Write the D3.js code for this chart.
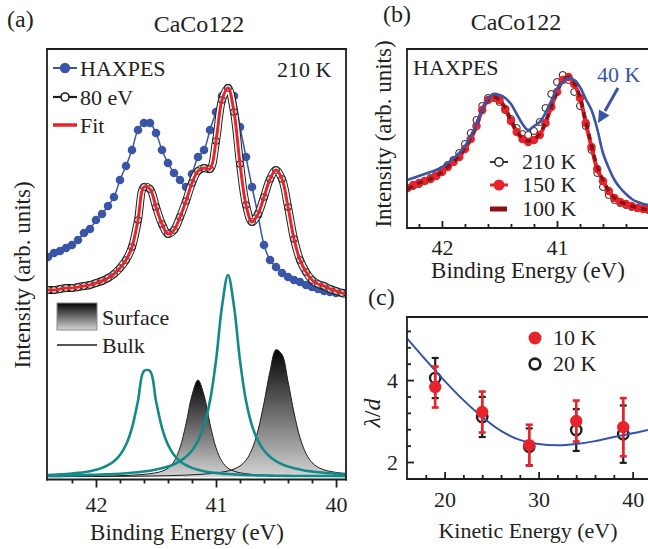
<!DOCTYPE html>
<html>
<head>
<meta charset="utf-8">
<script src="https://cdn.jsdelivr.net/npm/d3@7"></script>
<style>
  body { margin: 0; background: #fff; }
  svg text { font-family: "Liberation Serif", "Times New Roman", serif; fill: #231f20; }
</style>
</head>
<body>
<svg width="648" height="549"></svg>
<script>
// ---------- data, panel (a) : Co 3p core level, 210 K ----------
const energyA = [42.40, 42.35, 42.30, 42.25, 42.20, 42.15, 42.10, 42.05, 42.00, 41.95,
  41.90, 41.85, 41.80, 41.75, 41.70, 41.65, 41.60, 41.55, 41.50, 41.45,
  41.40, 41.35, 41.30, 41.25, 41.20, 41.15, 41.10, 41.05, 41.00, 40.95,
  40.90, 40.85, 40.80, 40.75, 40.70, 40.65, 40.60, 40.55, 40.50, 40.45,
  40.40, 40.35, 40.30, 40.25, 40.20, 40.15, 40.10, 40.05, 40.00, 39.95, 39.90];

const haxpes = [2.20, 2.24, 2.26, 2.29, 2.32, 2.37, 2.44, 2.48, 2.57, 2.63,
  2.71, 2.80, 2.97, 3.11, 3.27, 3.47, 3.54, 3.54, 3.44, 3.27,
  3.14, 3.04, 2.97, 2.90, 3.03, 3.20, 3.27, 3.47, 3.65, 3.81,
  3.89, 3.81, 3.50, 3.20, 2.90, 2.62, 2.32, 2.17, 2.10, 2.04,
  2.00, 1.97, 1.95, 1.92, 1.90, 1.88, 1.86, 1.85, 1.84, 1.84, 1.83];

// 80 eV data, the fit follows it
const ev80 = [1.87, 1.87, 1.88, 1.89, 1.89, 1.90, 1.91, 1.92, 1.94, 1.96,
  1.99, 2.03, 2.09, 2.17, 2.30, 2.57, 2.90, 2.88, 2.70, 2.53,
  2.43, 2.47, 2.60, 2.76, 2.94, 3.06, 3.09, 3.08, 3.36, 3.77,
  3.89, 3.65, 3.13, 2.72, 2.55, 2.63, 2.80, 2.98, 3.07, 2.98,
  2.70, 2.38, 2.17, 2.05, 1.97, 1.93, 1.91, 1.88, 1.86, 1.84, 1.83];

// bulk components (teal)
const bulk1 = [0.020, 0.023, 0.026, 0.030, 0.034, 0.041, 0.048, 0.058, 0.072, 0.091,
  0.118, 0.158, 0.220, 0.322, 0.492, 0.761, 1.060, 1.060, 0.761, 0.492,
  0.322, 0.220, 0.158, 0.118, 0.091, 0.072, 0.058, 0.048, 0.041, 0.034,
  0.030, 0.026, 0.023, 0.020, 0.018, 0.016, 0.015, 0.014, 0.013, 0.012,
  0.011, 0.010, 0.010, 0.010, 0.010, 0.010, 0.010, 0.010, 0.010, 0.010, 0.010];
const bulk2 = [0.012, 0.013, 0.014, 0.015, 0.016, 0.017, 0.019, 0.021, 0.022, 0.025,
  0.027, 0.030, 0.033, 0.037, 0.042, 0.048, 0.055, 0.063, 0.074, 0.087,
  0.104, 0.127, 0.158, 0.202, 0.265, 0.361, 0.513, 0.762, 1.164, 1.706,
  2.020, 1.706, 1.164, 0.762, 0.513, 0.361, 0.265, 0.202, 0.158, 0.127,
  0.104, 0.087, 0.074, 0.063, 0.055, 0.048, 0.042, 0.037, 0.033, 0.030, 0.027];

// surface components (shaded)
const surf1 = [0.004, 0.004, 0.004, 0.005, 0.005, 0.006, 0.006, 0.007, 0.008, 0.009,
  0.010, 0.011, 0.013, 0.015, 0.018, 0.022, 0.026, 0.033, 0.042, 0.058,
  0.088, 0.155, 0.293, 0.530, 0.818, 0.970, 0.818, 0.530, 0.293, 0.155,
  0.088, 0.058, 0.042, 0.033, 0.026, 0.022, 0.018, 0.015, 0.013, 0.011,
  0.010, 0.009, 0.008, 0.007, 0.006, 0.006, 0.005, 0.005, 0.004, 0.004, 0.004];
const surf2 = [0.003, 0.003, 0.003, 0.004, 0.004, 0.004, 0.004, 0.005, 0.005, 0.005,
  0.006, 0.006, 0.007, 0.007, 0.008, 0.008, 0.009, 0.010, 0.011, 0.012,
  0.013, 0.015, 0.017, 0.019, 0.022, 0.025, 0.029, 0.034, 0.040, 0.049,
  0.060, 0.079, 0.110, 0.168, 0.278, 0.467, 0.742, 1.057, 1.273, 1.224,
  0.954, 0.642, 0.394, 0.234, 0.144, 0.097, 0.072, 0.056, 0.046, 0.038, 0.033];

const ticksMajorA = [42, 41, 40];
const ticksMinorA = [42.2, 41.8, 41.6, 41.4, 41.2, 40.8, 40.6, 40.4, 40.2];

// ---------- data, panel (b) : temperature dependence ----------
const energyB = [42.30, 42.25, 42.20, 42.15, 42.10, 42.05, 42.00, 41.95, 41.90, 41.85,
  41.80, 41.75, 41.70, 41.65, 41.60, 41.55, 41.50, 41.45, 41.40, 41.35,
  41.30, 41.25, 41.20, 41.15, 41.10, 41.05, 41.00, 40.95, 40.90, 40.85,
  40.80, 40.75, 40.70, 40.65, 40.60, 40.55, 40.50, 40.45, 40.40, 40.35,
  40.30, 40.25, 40.20];

const t210 = [0.41, 0.43, 0.45, 0.48, 0.51, 0.55, 0.59, 0.64, 0.69, 0.76,
  0.85, 0.96, 1.09, 1.23, 1.31, 1.31, 1.27, 1.19, 1.10, 1.01,
  0.95, 0.94, 0.98, 1.07, 1.21, 1.35, 1.47, 1.54, 1.49, 1.37,
  1.23, 1.03, 0.79, 0.56, 0.42, 0.34, 0.29, 0.26, 0.24, 0.22,
  0.21, 0.20, 0.19];
const t150 = [0.41, 0.44, 0.46, 0.48, 0.50, 0.53, 0.57, 0.62, 0.67, 0.72,
  0.80, 0.90, 1.03, 1.19, 1.29, 1.32, 1.29, 1.20, 1.08, 0.97,
  0.90, 0.87, 0.89, 0.94, 1.06, 1.22, 1.37, 1.49, 1.52, 1.45,
  1.31, 1.06, 0.82, 0.60, 0.48, 0.38, 0.31, 0.27, 0.25, 0.23,
  0.21, 0.20, 0.19];
const t100 = [0.40, 0.43, 0.46, 0.48, 0.50, 0.53, 0.57, 0.62, 0.67, 0.73,
  0.81, 0.91, 1.04, 1.19, 1.29, 1.32, 1.29, 1.21, 1.09, 0.98,
  0.91, 0.88, 0.90, 0.95, 1.07, 1.22, 1.37, 1.48, 1.52, 1.46,
  1.32, 1.08, 0.84, 0.62, 0.49, 0.38, 0.31, 0.27, 0.25, 0.23,
  0.21, 0.20, 0.19];
const t40 = [0.49, 0.51, 0.53, 0.55, 0.57, 0.59, 0.62, 0.66, 0.71, 0.76,
  0.83, 0.93, 1.05, 1.19, 1.30, 1.35, 1.34, 1.31, 1.25, 1.15,
  1.05, 0.99, 1.03, 1.07, 1.16, 1.28, 1.40, 1.47, 1.51, 1.49,
  1.42, 1.30, 1.19, 1.00, 0.76, 0.61, 0.49, 0.41, 0.35, 0.30,
  0.27, 0.25, 0.24];

const ticksMajorB = [42, 41];
const ticksMinorB = [42.2, 41.8, 41.6, 41.4, 41.2, 40.8, 40.6, 40.4];

// ---------- data, panel (c) : lambda/d vs kinetic energy ----------
const kinE = [19, 24, 29, 34, 39];
const lam10 = [3.83, 3.22, 2.41, 3.00, 2.85];
const err10 = [0.50, 0.50, 0.50, 0.50, 0.71];
const lam20 = [4.05, 3.10, 2.37, 2.78, 2.68];
const err20 = [0.49, 0.49, 0.45, 0.51, 0.70];
const fitKinE = [16, 18, 20, 22, 24, 26, 28, 30, 32, 34, 36, 38, 40, 42];
const fitLam = [5.02, 4.49, 3.98, 3.51, 3.10, 2.76, 2.54, 2.44, 2.41, 2.44, 2.51, 2.61, 2.70, 2.80];

const ticksMajorCx = [20, 30, 40];
const ticksMinorCx = [18, 22, 24, 26, 28, 32, 34, 36, 38, 42];
const ticksMajorCy = [2, 4];
const ticksMinorCy = [1.6, 2.4, 2.8, 3.2, 3.6, 4.4, 4.8, 5.2];

// colours
const blue = '#3a54a6';
const red = '#e6242b';
const darkRed = '#8a1116';
const teal = '#128a8a';
const ink = '#1e1e1e';

const svg = d3.select('svg');
const defs = svg.append('defs');

// gradient for the surface peaks
const grad = defs.append('linearGradient').attr('id', 'surfGrad')
  .attr('x1', 0).attr('y1', 0).attr('x2', 0).attr('y2', 1);
grad.append('stop').attr('offset', '0%').attr('stop-color', '#050505');
grad.append('stop').attr('offset', '100%').attr('stop-color', '#d4d4d4');

const addClip = (id, x, y, w, h) => defs.append('clipPath').attr('id', id)
  .append('rect').attr('x', x).attr('y', y).attr('width', w).attr('height', h);

// plain text helper
const label = (g, x, y, txt, size, anchor = 'start') => g.append('text')
  .attr('x', x).attr('y', y)
  .attr('font-size', size)
  .attr('text-anchor', anchor)
  .text(txt);

// frame lines of a panel
const frame = (g, x0, y0, x1, y1, sides) => {
  const segs = {
    top: [x0, y0, x1, y0],
    bottom: [x0, y1, x1, y1],
    left: [x0, y0, x0, y1],
    right: [x1, y0, x1, y1]
  };
  sides.forEach(s => {
    const [a, b, c, d] = segs[s];
    g.append('line').attr('x1', a).attr('y1', b).attr('x2', c).attr('y2', d)
      .attr('stroke', ink).attr('stroke-width', 1.8).attr('stroke-linecap', 'square');
  });
};

// style an axis group
const styleAxis = sel => {
  sel.select('.domain').remove();
  sel.selectAll('line').attr('stroke', ink).attr('stroke-width', 1.8);
  sel.selectAll('text').attr('font-size', 22).attr('fill', ink)
    .attr('font-family', '"Liberation Serif", "Times New Roman", serif');
};

// ================= panel (a) =================
const xA = d3.scaleLinear().domain([42.408, 39.917]).range([47, 346]);
const yA = d3.scaleLinear().domain([-0.03, 4.28]).range([480, 49]);
addClip('clipA', 47, 49, 299, 431);

const gA = svg.append('g');
const plotA = gA.append('g').attr('clip-path', 'url(#clipA)');

const lineA = d3.line()
  .x((d, i) => xA(energyA[i]))
  .y(d => yA(d))
  .curve(d3.curveCatmullRom);
const areaA = d3.area()
  .x((d, i) => xA(energyA[i]))
  .y0(yA(0))
  .y1(d => yA(d))
  .curve(d3.curveCatmullRom);

// Surface components: shaded
plotA.selectAll('.surfFill').data([surf1, surf2]).join('path')
  .attr('class', 'surfFill')
  .attr('d', areaA)
  .attr('fill', 'url(#surfGrad)');
plotA.selectAll('.surfLine').data([surf1, surf2]).join('path')
  .attr('class', 'surfLine')
  .attr('d', lineA)
  .attr('fill', 'none')
  .attr('stroke', ink)
  .attr('stroke-width', 1);

// Bulk components: teal lines
plotA.selectAll('.bulk').data([bulk1, bulk2]).join('path')
  .attr('class', 'bulk')
  .attr('d', lineA)
  .attr('fill', 'none')
  .attr('stroke', teal)
  .attr('stroke-width', 2.6);

// HAXPES: blue line + filled dots
plotA.append('path').datum(haxpes)
  .attr('d', lineA)
  .attr('fill', 'none')
  .attr('stroke', blue)
  .attr('stroke-width', 1.5);
plotA.selectAll('.hx').data(haxpes).join('circle')
  .attr('class', 'hx')
  .attr('cx', (d, i) => xA(energyA[i]))
  .attr('cy', d => yA(d))
  .attr('r', 4.3)
  .attr('fill', blue);

// 80 eV: open circles, fit on top
plotA.append('path').datum(ev80)
  .attr('d', lineA).attr('fill', 'none')
  .attr('stroke', ink).attr('stroke-width', 8);
plotA.append('path').datum(ev80)
  .attr('d', lineA).attr('fill', 'none')
  .attr('stroke', '#fff').attr('stroke-width', 6);
plotA.selectAll('.e80').data(ev80).join('circle')
  .attr('class', 'e80')
  .attr('cx', (d, i) => xA(energyA[i]))
  .attr('cy', d => yA(d))
  .attr('r', 3.3)
  .attr('fill', '#fff')
  .attr('stroke', ink)
  .attr('stroke-width', 1.1);
plotA.append('path').datum(ev80)
  .attr('d', lineA).attr('fill', 'none')
  .attr('stroke', red).attr('stroke-width', 3);

// axis (a): outward ticks
gA.append('g').attr('transform', 'translate(0,479.5)')
  .call(d3.axisBottom(xA).tickValues(ticksMinorA).tickSize(4).tickFormat(''))
  .call(styleAxis);
gA.append('g').attr('transform', 'translate(0,479.5)')
  .call(d3.axisBottom(xA).tickValues(ticksMajorA).tickSize(8).tickPadding(9).tickFormat(d3.format('d')))
  .call(styleAxis);
frame(gA, 47, 49, 346, 479.5, ['top', 'bottom', 'left', 'right']);

// legend (a)
gA.append('line').attr('x1', 53).attr('x2', 77).attr('y1', 68).attr('y2', 68)
  .attr('stroke', blue).attr('stroke-width', 2);
gA.append('circle').attr('cx', 65).attr('cy', 68).attr('r', 5.2).attr('fill', blue);
gA.append('line').attr('x1', 53).attr('x2', 77).attr('y1', 97).attr('y2', 97)
  .attr('stroke', ink).attr('stroke-width', 2.2);
gA.append('circle').attr('cx', 65).attr('cy', 97).attr('r', 4)
  .attr('fill', '#fff').attr('stroke', ink).attr('stroke-width', 1.6);
gA.append('line').attr('x1', 53).attr('x2', 77).attr('y1', 125).attr('y2', 125)
  .attr('stroke', red).attr('stroke-width', 3.5);
label(gA, 80, 76, 'HAXPES', 22);
label(gA, 80, 105, '80 eV', 22);
label(gA, 80, 133, 'Fit', 22);
label(gA, 277, 77, '210 K', 22);

gA.append('rect').attr('x', 57).attr('y', 303).attr('width', 40).attr('height', 27)
  .attr('fill', 'url(#surfGrad)').attr('stroke', '#8a8a8a').attr('stroke-width', 1);
gA.append('line').attr('x1', 57).attr('x2', 97).attr('y1', 345).attr('y2', 345)
  .attr('stroke', ink).attr('stroke-width', 1.3);
label(gA, 102, 325, 'Surface', 22);
label(gA, 102, 353, 'Bulk', 22);

// titles (a)
label(gA, 7, 27, '(a)', 24);
label(gA, 199, 32, 'CaCo122', 24, 'middle');
label(gA, 187, 540, 'Binding Energy (eV)', 23, 'middle');
label(gA, 0, 0, 'Intensity (arb. units)', 23, 'middle')
  .attr('transform', 'translate(30,275) rotate(-90)');

// ================= panel (b) =================
const xB = d3.scaleLinear().domain([42.304, 40.0]).range([407, 672]);
const yB = d3.scaleLinear().domain([0, 1.8]).range([229, 49]);
addClip('clipB', 407, 49, 260, 179);

const gB = svg.append('g');
const plotB = gB.append('g').attr('clip-path', 'url(#clipB)');

const lineB = d3.line()
  .x((d, i) => xB(energyB[i]))
  .y(d => yB(d))
  .curve(d3.curveCatmullRom);

// 210 K open circles
plotB.selectAll('.t210').data(t210).join('circle')
  .attr('class', 't210')
  .attr('cx', (d, i) => xB(energyB[i]))
  .attr('cy', d => yB(d))
  .attr('r', 3.5)
  .attr('fill', '#fff')
  .attr('stroke', ink)
  .attr('stroke-width', 1);

// 150 K red line + dots
plotB.append('path').datum(t150)
  .attr('d', lineB).attr('fill', 'none')
  .attr('stroke', red).attr('stroke-width', 4);
plotB.selectAll('.t150').data(t150).join('circle')
  .attr('class', 't150')
  .attr('cx', (d, i) => xB(energyB[i]))
  .attr('cy', d => yB(d))
  .attr('r', 4.3)
  .attr('fill', red);

// 100 K dark red dashes
plotB.append('path').datum(t100)
  .attr('d', lineB).attr('fill', 'none')
  .attr('stroke', darkRed).attr('stroke-width', 3.5)
  .attr('stroke-dasharray', '6,5');

// 40 K blue line
plotB.append('path').datum(t40)
  .attr('d', lineB).attr('fill', 'none')
  .attr('stroke', blue).attr('stroke-width', 2.6);

// axis (b): inward ticks
gB.append('g').attr('transform', 'translate(0,228)')
  .call(d3.axisBottom(xB).tickValues(ticksMinorB).tickSize(-4).tickFormat(''))
  .call(styleAxis);
gB.append('g').attr('transform', 'translate(0,228)')
  .call(d3.axisBottom(xB).tickValues(ticksMajorB).tickSize(-7).tickPadding(11.5).tickFormat(d3.format('d')))
  .call(styleAxis);
frame(gB, 407, 49, 660, 228, ['top', 'bottom', 'left']);

// legend (b)
gB.append('line').attr('x1', 490).attr('x2', 508).attr('y1', 162).attr('y2', 162)
  .attr('stroke', ink).attr('stroke-width', 1.8);
gB.append('circle').attr('cx', 499).attr('cy', 162).attr('r', 4.2)
  .attr('fill', '#fff').attr('stroke', ink).attr('stroke-width', 1.4);
gB.append('line').attr('x1', 490).attr('x2', 508).attr('y1', 185).attr('y2', 185)
  .attr('stroke', red).attr('stroke-width', 3);
gB.append('circle').attr('cx', 499).attr('cy', 185).attr('r', 5.5).attr('fill', red);
gB.append('line').attr('x1', 490).attr('x2', 507).attr('y1', 209).attr('y2', 209)
  .attr('stroke', darkRed).attr('stroke-width', 5);
label(gB, 522, 169, '210 K', 22);
label(gB, 522, 192, '150 K', 22);
label(gB, 522, 216, '100 K', 22);
label(gB, 413, 75, 'HAXPES', 22);

// 40 K annotation with arrow
label(gB, 597, 82, '40 K', 22).style('fill', blue);
gB.append('line').attr('x1', 618).attr('y1', 88).attr('x2', 605).attr('y2', 111)
  .attr('stroke', blue).attr('stroke-width', 3);
gB.append('polygon').attr('points', '598,123 609.5,115.5 599,109.5').attr('fill', blue);

// titles (b)
label(gB, 383, 22, '(b)', 24);
label(gB, 516, 30, 'CaCo122', 24, 'middle');
label(gB, 528, 278, 'Binding Energy (eV)', 23, 'middle');
label(gB, 0, 0, 'Intensity (arb. units)', 23, 'middle')
  .attr('transform', 'translate(391,134) rotate(-90)');

// ================= panel (c) =================
const xC = d3.scaleLinear().domain([16, 42.9]).range([407, 659.9]);
const yC = d3.scaleLinear().domain([1.585, 5.54]).range([479, 317]);
addClip('clipC', 407, 317, 260, 162);

const gC = svg.append('g');

// error bars helper
const errBars = (g, vals, errs, colour, width) => {
  const eb = g.selectAll(null).data(vals).join('g')
    .attr('stroke', colour).attr('stroke-width', width);
  eb.append('line')
    .attr('x1', (d, i) => xC(kinE[i])).attr('x2', (d, i) => xC(kinE[i]))
    .attr('y1', (d, i) => yC(d + errs[i])).attr('y2', (d, i) => yC(d - errs[i]));
  eb.append('line')
    .attr('x1', (d, i) => xC(kinE[i]) - 3.5).attr('x2', (d, i) => xC(kinE[i]) + 3.5)
    .attr('y1', (d, i) => yC(d + errs[i])).attr('y2', (d, i) => yC(d + errs[i]));
  eb.append('line')
    .attr('x1', (d, i) => xC(kinE[i]) - 3.5).attr('x2', (d, i) => xC(kinE[i]) + 3.5)
    .attr('y1', (d, i) => yC(d - errs[i])).attr('y2', (d, i) => yC(d - errs[i]));
};

// 20 K: black open circles
errBars(gC, lam20, err20, ink, 2.2);
gC.selectAll('.p20').data(lam20).join('circle')
  .attr('class', 'p20')
  .attr('cx', (d, i) => xC(kinE[i]))
  .attr('cy', d => yC(d))
  .attr('r', 5.2)
  .attr('fill', 'none')
  .attr('stroke', ink)
  .attr('stroke-width', 2.4);

// universal-curve fit
gC.append('path').datum(fitLam)
  .attr('clip-path', 'url(#clipC)')
  .attr('d', d3.line()
    .x((d, i) => xC(fitKinE[i]))
    .y(d => yC(d))
    .curve(d3.curveCatmullRom))
  .attr('fill', 'none')
  .attr('stroke', '#3552a8')
  .attr('stroke-width', 2);

// 10 K: red filled dots
errBars(gC, lam10, err10, red, 2.6);
gC.selectAll('.p10').data(lam10).join('circle')
  .attr('class', 'p10')
  .attr('cx', (d, i) => xC(kinE[i]))
  .attr('cy', d => yC(d))
  .attr('r', 6.2)
  .attr('fill', red);

// axes (c): inward ticks
gC.append('g').attr('transform', 'translate(0,479)')
  .call(d3.axisBottom(xC).tickValues(ticksMinorCx).tickSize(-4).tickFormat(''))
  .call(styleAxis);
gC.append('g').attr('transform', 'translate(0,479)')
  .call(d3.axisBottom(xC).tickValues(ticksMajorCx).tickSize(-7).tickPadding(12.4).tickFormat(d3.format('d')))
  .call(styleAxis);
gC.append('g').attr('transform', 'translate(407,0)')
  .call(d3.axisLeft(yC).tickValues(ticksMinorCy).tickSize(-4).tickFormat(''))
  .call(styleAxis);
gC.append('g').attr('transform', 'translate(407,0)')
  .call(d3.axisLeft(yC).tickValues(ticksMajorCy).tickSize(-7).tickPadding(9).tickFormat(d3.format('d')))
  .call(styleAxis);
frame(gC, 407, 317, 660, 479, ['top', 'bottom', 'left']);

// legend (c)
gC.append('circle').attr('cx', 535).attr('cy', 338).attr('r', 6.5).attr('fill', red);
gC.append('circle').attr('cx', 535).attr('cy', 364).attr('r', 5.4)
  .attr('fill', 'none').attr('stroke', ink).attr('stroke-width', 2.6);
label(gC, 553, 345, '10 K', 22);
label(gC, 553, 371, '20 K', 22);

// titles (c)
label(gC, 368, 305, '(c)', 24);
label(gC, 528, 538, 'Kinetic Energy (eV)', 22, 'middle');
const lamLabel = label(gC, 0, 0, '', 24, 'middle')
  .attr('transform', 'translate(380,413) rotate(-90)')
  .attr('font-style', 'italic');
lamLabel.append('tspan').text('λ');
lamLabel.append('tspan').attr('font-style', 'normal').text('/');
lamLabel.append('tspan').text('d');
</script>
</body>
</html>
